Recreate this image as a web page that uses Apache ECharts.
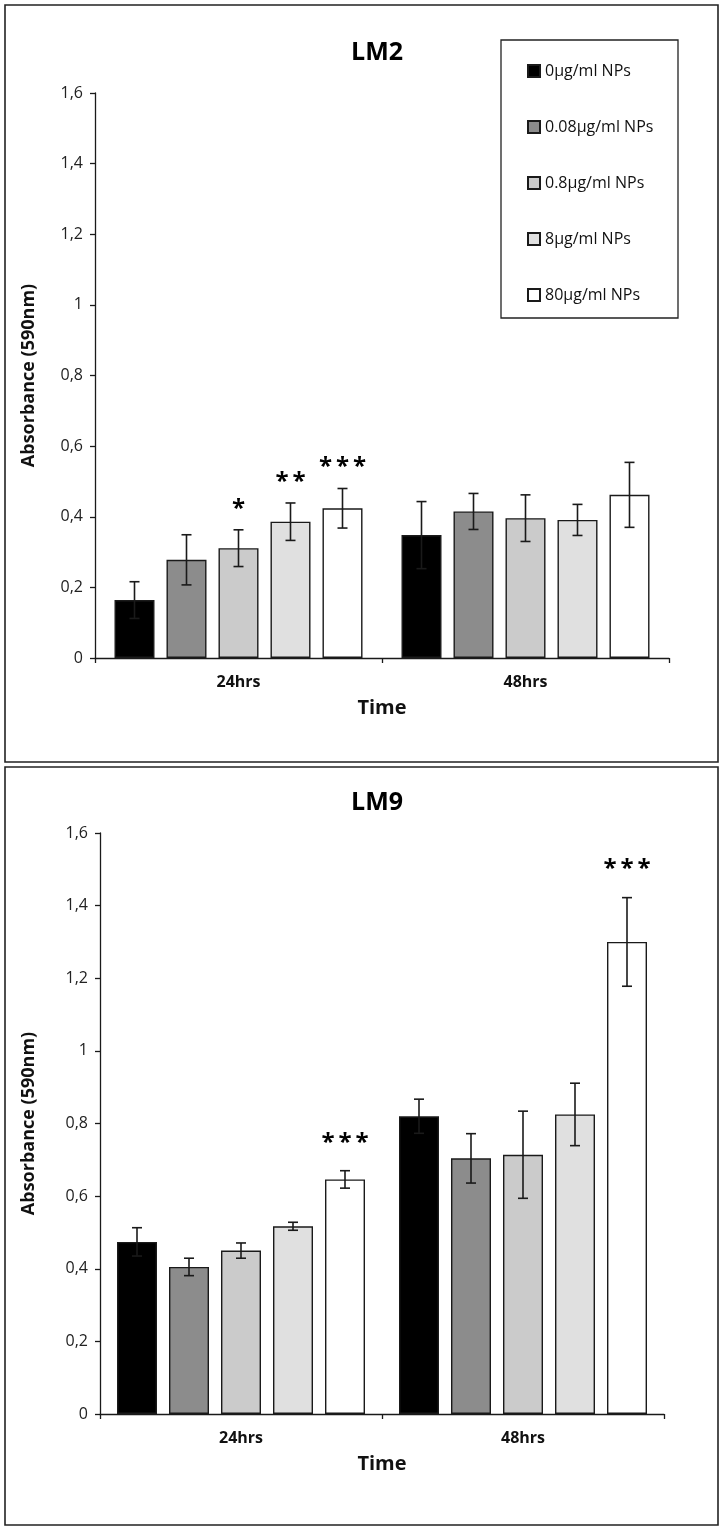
<!DOCTYPE html>
<html>
<head>
<meta charset="utf-8">
<script src="https://cdn.jsdelivr.net/npm/echarts@6/dist/echarts.min.js"></script>
<style>
html,body{margin:0;padding:0;background:#fff;}
#chart{width:724px;height:1531px;}
</style>
</head>
<body>
<div id="chart"></div>
<script>
// ---------- DATA ----------
const categories = ['24hrs', '48hrs'];
const seriesNames = ['0μg/ml NPs', '0.08μg/ml NPs', '0.8μg/ml NPs', '8μg/ml NPs', '80μg/ml NPs'];
const yTicks = [0, 0.2, 0.4, 0.6, 0.8, 1.0, 1.2, 1.4, 1.6];

// LM2: per concentration [24hrs, 48hrs]
const lm2Means = [[0.164, 0.348], [0.278, 0.415], [0.311, 0.396], [0.386, 0.391], [0.424, 0.462]];
const lm2Errors = [[0.052, 0.095], [0.071, 0.051], [0.052, 0.066], [0.053, 0.044], [0.056, 0.092]];
const lm2Signif = [['', ''], ['', ''], ['*', ''], ['**', ''], ['***', '']];

// LM9: per concentration [24hrs, 48hrs]
const lm9Means = [[0.474, 0.820], [0.405, 0.704], [0.450, 0.714], [0.517, 0.825], [0.646, 1.300]];
const lm9Errors = [[0.039, 0.047], [0.024, 0.068], [0.021, 0.120], [0.011, 0.086], [0.024, 0.122]];
const lm9Signif = [['', ''], ['', ''], ['', ''], ['', ''], ['***', '***']];

// ---------- STYLE ----------
const barColors = ['#000000', '#8c8c8c', '#cbcbcb', '#e0e0e0', '#ffffff'];
const FONT = '"Open Sans", Carlito, Lato, sans-serif';
const INK = '#1a1a1a';
const BAR_W = 40, BAR_GAP = 0.3;

const chart = echarts.init(document.getElementById('chart'), null, {renderer: 'canvas'});

function fmt(v) { return String(+(+v).toFixed(1)).replace('.', ','); }

function buildBars(means, gridIdx) {
  return seriesNames.map((name, i) => ({
    name: name,
    type: 'bar',
    xAxisIndex: gridIdx, yAxisIndex: gridIdx,
    barWidth: BAR_W, barGap: (BAR_GAP * 100) + '%',
    itemStyle: {color: barColors[i], borderColor: INK, borderWidth: 1.4},
    emphasis: {disabled: true},
    data: means[i]
  }));
}

function buildErrors(means, errors, signif, gridIdx, starLift) {
  const data = [];
  means.forEach((arr, s) => arr.forEach((m, c) => data.push([c, m, errors[s][c], s, signif[s][c]])));
  return {
    type: 'custom',
    xAxisIndex: gridIdx, yAxisIndex: gridIdx,
    z: 10, silent: true,
    data: data,
    renderItem: function (params, api) {
      const c = api.value(0), m = api.value(1), e = api.value(2), s = api.value(3);
      const sig = data[params.dataIndex][4];
      const n = seriesNames.length;
      const gapPx = BAR_W * BAR_GAP;
      const total = n * BAR_W + (n - 1) * gapPx;
      const center = api.coord([c, m]);
      const x = center[0] - total / 2 + BAR_W / 2 + s * (BAR_W + gapPx);
      const yHi = api.coord([c, m + e])[1];
      const yLo = api.coord([c, m - e])[1];
      const cap = 5;
      const st = {stroke: INK, lineWidth: 1.6};
      const children = [
        {type: 'line', shape: {x1: x, y1: yHi, x2: x, y2: yLo}, style: st},
        {type: 'line', shape: {x1: x - cap, y1: yHi, x2: x + cap, y2: yHi}, style: st},
        {type: 'line', shape: {x1: x - cap, y1: yLo, x2: x + cap, y2: yLo}, style: st}
      ];
      if (sig) {
        children.push({
          type: 'text',
          style: {text: sig.split('').join('\u2009'), x: x, y: yHi - starLift, textAlign: 'center', textVerticalAlign: 'bottom',
                  font: 'bold 24px ' + FONT, fill: '#000'}
        });
      }
      return {type: 'group', children: children};
    }
  };
}

function xAxisCfg(gridIdx) {
  return {
    type: 'category', gridIndex: gridIdx, data: categories,
    axisLine: {lineStyle: {color: INK, width: 1.3}},
    axisTick: {show: true, alignWithLabel: false, length: 5, lineStyle: {color: INK, width: 1.3}},
    axisLabel: {fontFamily: FONT, fontWeight: 'bold', fontSize: 16, color: '#111', margin: 16},
    name: 'Time', nameLocation: 'middle', nameGap: 40,
    nameTextStyle: {fontFamily: FONT, fontWeight: 'bold', fontSize: 20, color: '#111'}
  };
}
function yAxisCfg(gridIdx, gap) {
  return {
    type: 'value', gridIndex: gridIdx, min: yTicks[0], max: yTicks[yTicks.length - 1], interval: yTicks[1] - yTicks[0],
    axisLine: {show: true, lineStyle: {color: INK, width: 1.3}},
    axisTick: {show: true, length: 5, lineStyle: {color: INK, width: 1.3}},
    splitLine: {show: false},
    axisLabel: {fontFamily: FONT, fontSize: 16, color: '#222', margin: 12, formatter: fmt},
    name: 'Absorbance (590nm)', nameLocation: 'middle', nameRotate: 90, nameGap: gap,
    nameTextStyle: {fontFamily: FONT, fontWeight: 'bold', fontSize: 18, color: '#111'}
  };
}

const option = {
  animation: false,
  backgroundColor: '#ffffff',
  title: [
    {text: 'LM2', left: 372, top: 35, textAlign: 'center',
     textStyle: {fontFamily: FONT, fontWeight: 'bold', fontSize: 25, color: '#000'}},
    {text: 'LM9', left: 372, top: 785, textAlign: 'center',
     textStyle: {fontFamily: FONT, fontWeight: 'bold', fontSize: 25, color: '#000'}}
  ],
  graphic: [
    {type: 'rect', shape: {x: 5, y: 5, width: 713, height: 757}, style: {fill: null, stroke: '#222', lineWidth: 1.6}, z: -1, silent: true},
    {type: 'rect', shape: {x: 5, y: 767, width: 713, height: 758}, style: {fill: null, stroke: '#222', lineWidth: 1.6}, z: -1, silent: true},
    {type: 'rect', shape: {x: 501, y: 40, width: 177, height: 278}, style: {fill: '#fff', stroke: '#222', lineWidth: 1.3}, z: 0, silent: true}
  ],
  legend: {
    orient: 'vertical', left: 522, top: 56, itemWidth: 12, itemHeight: 12, itemGap: 36,
    icon: 'rect', selectedMode: false, z: 5,
    textStyle: {fontFamily: FONT, fontSize: 16, color: '#111', lineHeight: 20},
    data: seriesNames
  },
  grid: [
    {left: 95, right: 55, top: 93, bottom: 873},
    {left: 100, right: 60, top: 833, bottom: 117}
  ],
  xAxis: [xAxisCfg(0), xAxisCfg(1)],
  yAxis: [yAxisCfg(0, 57), yAxisCfg(1, 62)],
  series: [].concat(
    buildBars(lm2Means, 0), [buildErrors(lm2Means, lm2Errors, lm2Signif, 0, 9)],
    buildBars(lm9Means, 1), [buildErrors(lm9Means, lm9Errors, lm9Signif, 1, 16)]
  )
};
chart.setOption(option);
</script>
</body>
</html>
